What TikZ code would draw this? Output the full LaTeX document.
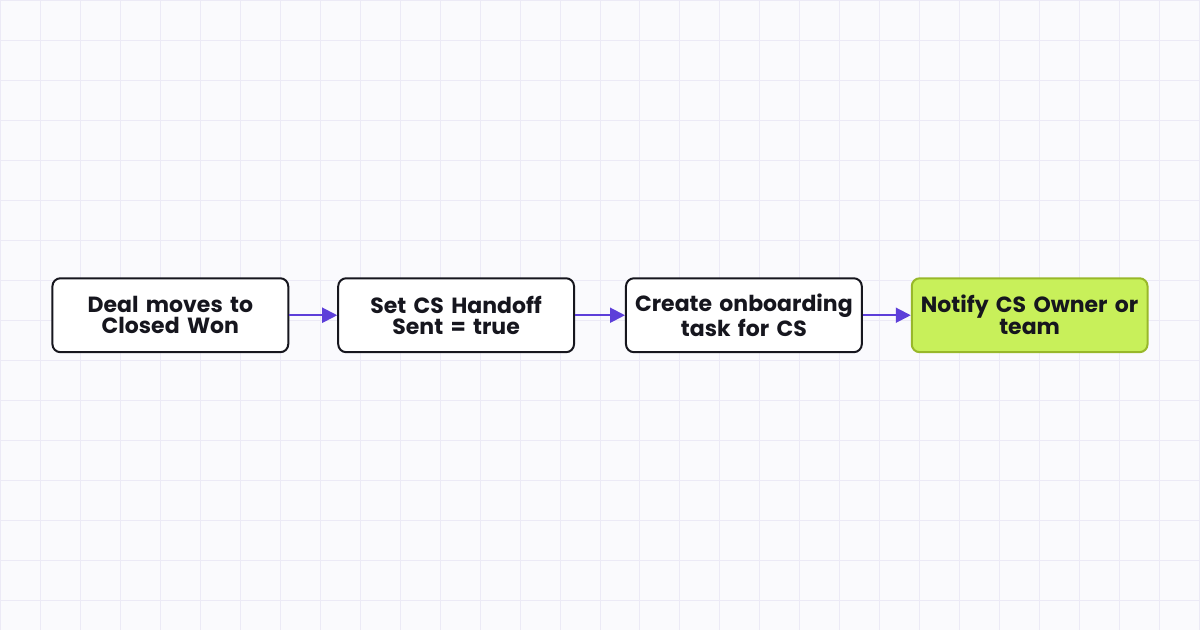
\documentclass[tikz,border=0pt]{standalone}
\usepackage{fontspec}
\setmainfont{Poppins}
\usetikzlibrary{positioning,arrows.meta}
\definecolor{gridline}{RGB}{236,234,246}
\definecolor{paper}{RGB}{250,250,253}
\definecolor{ink}{RGB}{22,22,30}
\definecolor{flow}{RGB}{93,63,217}
\definecolor{lime}{RGB}{200,240,90}
\definecolor{limeedge}{RGB}{152,184,42}
\begin{document}
\begin{tikzpicture}[x=1pt,y=-1pt,
  stepbox/.style={draw=ink,line width=2pt,rounded corners=8pt,fill=white,
    minimum width=236pt,minimum height=74pt,text width=234pt,inner sep=1pt,
    align=center,font=\fontsize{22}{21}\selectfont\bfseries,text=ink},
  goalbox/.style={stepbox,draw=limeedge,fill=lime},
  link/.style={draw=flow,line width=2pt,-{Triangle[length=15pt,width=15pt]}}]
\fill[paper] (0,0) rectangle (1200,630);
\foreach \x in {0,40,...,1200}
  \draw[gridline,line width=1pt] (\x,0) -- (\x,630);
\foreach \y in {0,40,...,600}
  \draw[gridline,line width=1pt] (0,\y) -- (1200,\y);
\useasboundingbox (0,0) rectangle (1200,630);
% the handoff steps
\node[stepbox] (won) at (170,315) {Deal moves to\\Closed Won};
\node[stepbox,right=48pt of won] (flag) {Set CS Handoff\\Sent = true};
\node[stepbox,right=50pt of flag] (task) {Create onboarding\\task for CS};
\node[goalbox,right=48pt of task] (notify) {Notify CS Owner or\\team};
\draw[link] (won) -- (flag);
\draw[link] (flag) -- (task);
\draw[link] (task) -- (notify);
\end{tikzpicture}
\end{document}
